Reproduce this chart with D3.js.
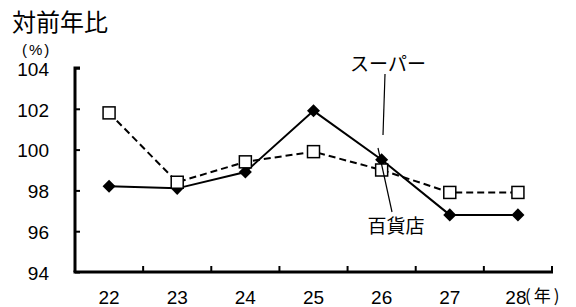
<!DOCTYPE html>
<html>
<head>
<meta charset="utf-8">
<script src="https://cdn.jsdelivr.net/npm/d3@7"></script>
<style>
  body { margin: 0; background: #fff; }
  text { font-family: "Liberation Sans", "Noto Sans CJK JP", sans-serif; fill: #000; }
</style>
</head>
<body>
<div id="chart"></div>
<script>
// Data
const years = ['22', '23', '24', '25', '26', '27', '28'];
const superValues = [98.2, 98.1, 98.9, 101.9, 99.5, 96.8, 96.8];
const deptValues = [101.8, 98.4, 99.4, 99.9, 99.0, 97.9, 97.9];
const yTicks = [94, 96, 98, 100, 102, 104];

const W = 576, H = 307;
const plot = {left: 75, right: 552, top: 68, bottom: 272};
const jp = '"Noto Sans CJK JP", sans-serif';

const svg = d3.select('#chart').append('svg')
    .attr('width', W)
    .attr('height', H);

// Scales
const x = d3.scaleBand().domain(years).range([plot.left, plot.right]);
const y = d3.scaleLinear().domain([94, 104]).range([plot.bottom, plot.top]);
const cx = d => x(d) + x.bandwidth() / 2;

// Title
svg.append('text')
    .attr('x', 12).attr('y', 31)
    .style('font-size', '24px')
    .style('font-family', jp)
    .text('対前年比');

svg.append('text')
    .attr('x', 22).attr('y', 55)
    .style('font-size', '15px')
    .style('letter-spacing', '2px')
    .text('(%)');

// Y axis
const yAxis = svg.append('g')
    .attr('transform', `translate(${plot.left},0)`)
    .call(d3.axisRight(y).tickValues(yTicks).tickSize(5).tickFormat(d3.format('d')));
yAxis.select('.domain').attr('d', `M5,${plot.top}H0V${plot.bottom}`).attr('stroke', '#000').attr('stroke-width', 3);
yAxis.selectAll('.tick line').attr('stroke', '#000').attr('stroke-width', 2);
yAxis.selectAll('.tick text')
    .attr('x', -26)
    .attr('dy', '0.38em')
    .attr('text-anchor', 'end')
    .style('font-size', '19px');

// X axis
const bounds = years.slice(1).map(d => x(d)).concat([plot.right]);
const xAxisG = svg.append('g');
xAxisG.append('line')
    .attr('x1', plot.left - 1.5).attr('x2', plot.right + 1)
    .attr('y1', plot.bottom).attr('y2', plot.bottom)
    .attr('stroke', '#000').attr('stroke-width', 3);
xAxisG.selectAll('line.tick')
    .data(bounds)
  .enter().append('line')
    .attr('class', 'tick')
    .attr('x1', d => d).attr('x2', d => d)
    .attr('y1', plot.bottom).attr('y2', plot.bottom - 6)
    .attr('stroke', '#000').attr('stroke-width', 2);
xAxisG.selectAll('text.lbl')
    .data(years)
  .enter().append('text')
    .attr('class', 'lbl')
    .attr('x', d => cx(d) - (d === '28' ? 2 : 0))
    .attr('y', 304)
    .attr('text-anchor', 'middle')
    .style('font-size', '19px')
    .text(d => d);
svg.append('text')
    .attr('x', 525).attr('y', 302)
    .style('font-size', '17px')
    .style('letter-spacing', '3px')
    .style('font-family', jp)
    .text('(年)');

// Lines
const line = d3.line().x((d, i) => cx(years[i])).y(d => y(d));

svg.append('path')
    .datum(deptValues)
    .attr('d', line)
    .attr('fill', 'none')
    .attr('stroke', '#000')
    .attr('stroke-width', 2)
    .attr('stroke-dasharray', '7,4');

svg.append('path')
    .datum(superValues)
    .attr('d', line)
    .attr('fill', 'none')
    .attr('stroke', '#000')
    .attr('stroke-width', 2);

// Diamonds (スーパー)
svg.selectAll('path.diamond')
    .data(superValues)
  .enter().append('path')
    .attr('class', 'diamond')
    .attr('d', d3.symbol().type(d3.symbolSquare).size(85))
    .attr('transform', (d, i) => `translate(${cx(years[i])},${y(d)}) rotate(45)`)
    .attr('fill', '#000');

// Squares (百貨店)
svg.selectAll('rect.sq')
    .data(deptValues)
  .enter().append('rect')
    .attr('class', 'sq')
    .attr('x', (d, i) => cx(years[i]) - 6)
    .attr('y', d => y(d) - 6)
    .attr('width', 12).attr('height', 12)
    .attr('fill', '#fff')
    .attr('stroke', '#000')
    .attr('stroke-width', 1.5);

// Annotations
svg.append('text')
    .attr('x', 388).attr('y', 71)
    .attr('text-anchor', 'middle')
    .style('font-size', '19px')
    .style('font-family', jp)
    .text('スーパー');
svg.append('line')
    .attr('x1', 385).attr('y1', 74).attr('x2', 383).attr('y2', 135)
    .attr('stroke', '#000').attr('stroke-width', 1.2);

svg.append('text')
    .attr('x', 396).attr('y', 233)
    .attr('text-anchor', 'middle')
    .style('font-size', '19px')
    .style('font-family', jp)
    .text('百貨店');
svg.append('line')
    .attr('x1', 378).attr('y1', 148).attr('x2', 392).attr('y2', 212)
    .attr('stroke', '#000').attr('stroke-width', 1.2);
</script>
</body>
</html>
